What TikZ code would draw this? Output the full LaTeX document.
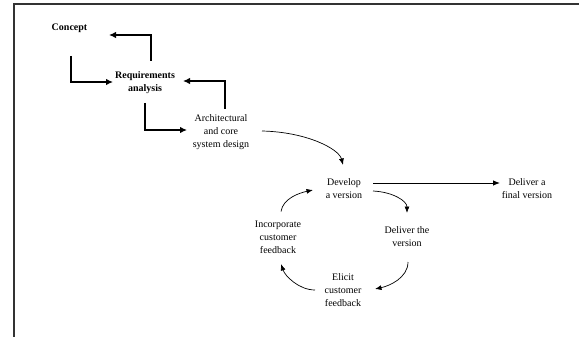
\documentclass[tikz,border=0pt]{standalone}
\usepackage{fontspec}
\setmainfont{Liberation Serif}
\usetikzlibrary{arrows.meta,calc}
\begin{document}
\begin{tikzpicture}[x=1pt,y=-1pt,
  lbl/.style={align=center,inner sep=0pt,font=\fontsize{10}{13}\selectfont},
  boldlbl/.style={lbl,font=\fontsize{10}{13}\selectfont\bfseries},
  frame/.style={line width=1.7pt,black!80},
  ortho/.style={line width=1.2pt,-{Latex[length=7pt,width=6.5pt]}},
  flow/.style={line width=0.9pt,-{Latex[length=7pt,width=5.5pt]}},
  loop/.style={line width=0.7pt,-{Latex[length=6.5pt,width=5pt]}}]
\useasboundingbox (0,0) rectangle (579,337);
% page frame, top and left edges
\draw[frame] (14.3,337) |- (579,3.7);

% stages
\node[boldlbl] (concept) at (69.5,28) {Concept};
\node[boldlbl] (req) at (145,83) {Requirements\\analysis};
\node[lbl] (arch) at (221,132.5) {Architectural\\and core\\system design};
\node[lbl] (dev) at (344,188.5) {Develop\\a version};
\node[lbl] (final) at (527,188.5) {Deliver a\\final version};
\node[lbl] (deliv) at (407,236.5) {Deliver the\\version};
\node[lbl] (elicit) at (343,290.5) {Elicit\\customer\\feedback};
\node[lbl] (inc) at (278,237.5) {Incorporate\\customer\\feedback};

% feed-forward and feedback steps of the early phases
\draw[ortho] ($(concept)+(1.5,28)$) |- ($(req)+(-32,-1)$);
\draw[ortho] ($(req)+(6,-22)$) |- ($(concept)+(39.5,7)$);
\draw[ortho] ($(req)+(0,20)$) |- ($(arch)+(-34,-2.5)$);
\draw[ortho] ($(arch)+(4,-23.5)$) |- ($(req)+(38,-2)$);

% into the delivery cycle
\draw[loop] ($(arch)+(41,-1.5)$) .. controls +(45,1) and +(-4,-16) .. ($(dev)+(-1,-23.5)$);
\draw[flow] ($(dev)+(29,-5.5)$) -- ($(final)+(-27,-5.5)$);

% the delivery cycle
\draw[loop] ($(dev)+(29,2.5)$) .. controls +(20,1) and +(0,-12) .. ($(deliv)+(0,-23.5)$);
\draw[loop] ($(deliv)+(1,25.5)$) .. controls +(0,16) and +(14,-3) .. ($(elicit)+(32,-1.5)$);
\draw[loop] ($(elicit)+(-28,-0.5)$) .. controls +(-16,0) and +(4,12) .. ($(inc)+(3,26.5)$);
\draw[loop] ($(inc)+(3,-26)$) .. controls +(2,-13) and +(-14,3) .. ($(dev)+(-31,1.5)$);
\end{tikzpicture}
\end{document}
